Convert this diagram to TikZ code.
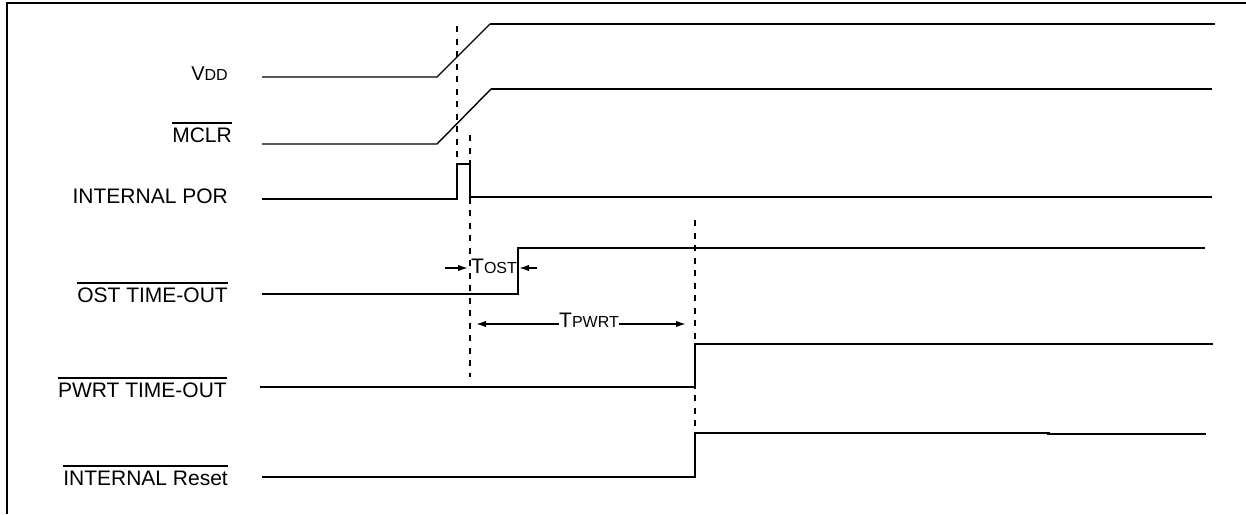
\documentclass[tikz,border=0pt]{standalone}
\usepackage{fontspec}
\setmainfont{Liberation Sans}
\usetikzlibrary{arrows.meta}
\newcommand\ovbar[1]{\leavevmode\vbox{\hrule height 1.4pt\kern 3.8pt\hbox{#1}}}
\newcommand\bigtxt{\fontsize{21}{25}\selectfont}
\newcommand\smalltxt{\fontsize{16}{19}\selectfont}
\begin{document}
\begin{tikzpicture}[x=1pt,y=-1pt,
  lbl/.style={anchor=base east,inner sep=0pt,font=\bigtxt},
  sig/.style={line width=2.2pt,line join=miter},
  ramp/.style={line width=1.4pt},
  guide/.style={line width=2.2pt,dash pattern=on 6pt off 6.5pt},
  dim/.style={line width=1.6pt,-{Latex[length=10pt,width=6.5pt]}},
  tlbl/.style={anchor=base west,inner sep=0pt}]
\useasboundingbox (0,0) rectangle (1246,514);
% frame
\draw[line width=2.2pt] (7,514) -- (7,3) -- (1246,3);
% labels
\node[lbl] (lvdd) at (228,80) {{\fontsize{20}{24}\selectfont V}{\smalltxt DD}};
\node[lbl] (lmclr) at (232,142) {\ovbar{MCLR}};
\node[lbl] (lpor) at (228,203) {INTERNAL POR};
\node[lbl] (lost) at (228,302) {\ovbar{OST TIME-OUT}};
\node[lbl] (lpwrt) at (227,397) {\ovbar{PWRT TIME-OUT}};
\node[lbl] (lrst) at (228,485) {\ovbar{INTERNAL Reset}};
% VDD
\draw[ramp] (262,77) -- (437,77) -- (490,24);
\draw[sig] (490,24) -- (1215,24);
% MCLR
\draw[ramp] (262,144) -- (437,144) -- (491,89);
\draw[sig] (491,89) -- (1212,89);
% INTERNAL POR
\draw[sig] (262,199) -- (457,199) -- (457,164) -- (470,164) -- (470,197) -- (1212,197);
% OST TIME-OUT
\draw[sig] (262,294) -- (518,294) -- (518,248) -- (1205,248);
% PWRT TIME-OUT
\draw[sig] (260,387) -- (695,387) -- (695,344) -- (1213,344);
% INTERNAL Reset
\draw[sig] (262,477) -- (695,477) -- (695,433) -- (1050,433);
\draw[sig] (1047,434) -- (1206,434);
% guide lines
\coordinate (g1t) at (457,26); \coordinate (g1b) at (457,166);
\coordinate (g2t) at (470,135); \coordinate (g2b) at (470,377);
\coordinate (g3t) at (695,220); \coordinate (g3b) at (695,432);
\draw[guide] (g1t) -- (g1b);
\draw[guide] (g2t) -- (g2b);
\draw[guide] (g3t) -- (g3b);
% TOST
\node[tlbl] (tost) at (471,273) {\bigtxt T\smalltxt OST};
\coordinate (ta) at (445,268); \coordinate (tah) at (468,268);
\coordinate (tb) at (537,268); \coordinate (tbh) at (519,268);
\draw[dim] (ta) -- (tah);
\draw[dim] (tb) -- (tbh);
% TPWRT
\node[tlbl] (tpwrt) at (559,327) {\bigtxt T\smalltxt PWRT};
\coordinate (pa) at (476,324); \coordinate (pb) at (686,324);
\draw[dim] (tpwrt.west |- pa) -- (pa);
\draw[dim] (tpwrt.east |- pb) -- (pb);
\end{tikzpicture}
\end{document}
